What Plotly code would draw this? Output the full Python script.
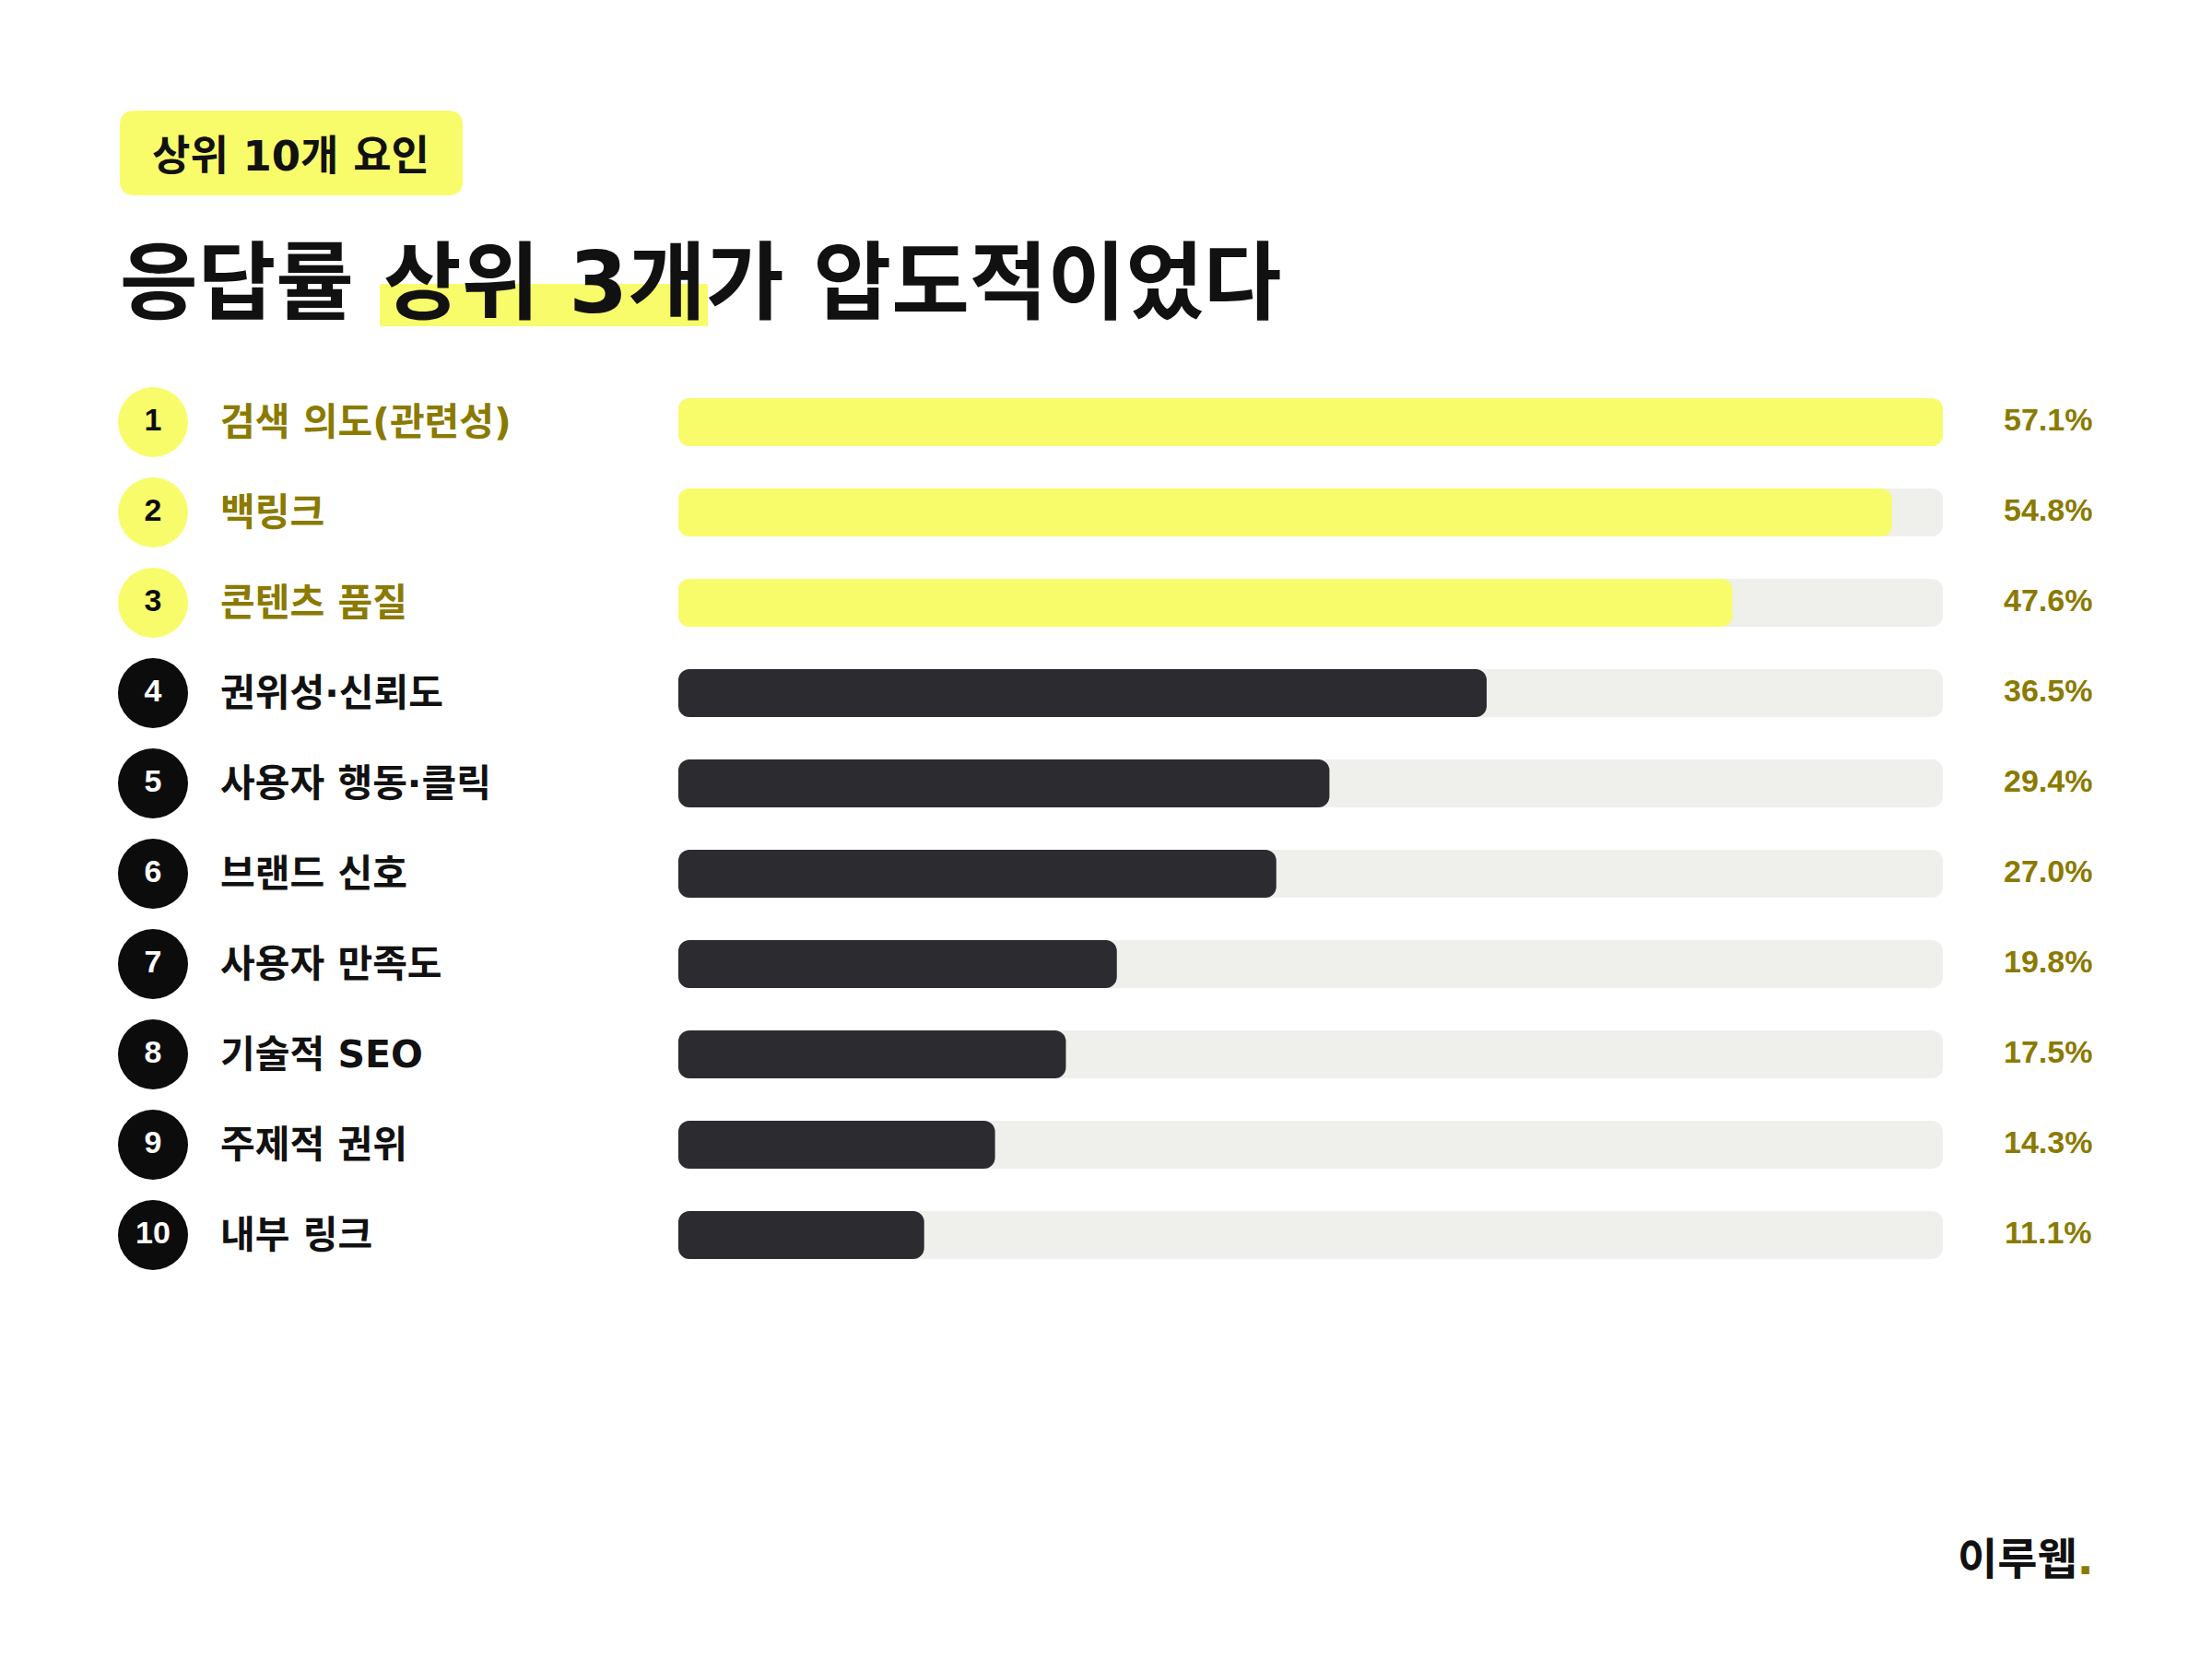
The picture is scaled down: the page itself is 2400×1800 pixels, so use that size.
import plotly.graph_objects as go

# ---- data ----
factors = ["검색 의도(관련성)", "백링크", "콘텐츠 품질", "권위성·신뢰도", "사용자 행동·클릭",
           "브랜드 신호", "사용자 만족도", "기술적 SEO", "주제적 권위", "내부 링크"]
values = [57.1, 54.8, 47.6, 36.5, 29.4, 27.0, 19.8, 17.5, 14.3, 11.1]
ranks = [str(i + 1) for i in range(len(factors))]
value_labels = [f"{v:.1f}%" for v in values]
badge_text = "상위 10개 요인"
title_text = "응답률 상위 3개가 압도적이었다"
brand_text = "이루웹"
top_n = 3

# ---- style ----
W, H = 2400, 1800
YELLOW = "#F8FC6B"
OLIVE = "#8A7A00"
TRACK = "#EFEFEB"
DARK = "#2B2B30"
BLACK = "#0C0C0C"
FONT = "DejaVu Sans, Noto Sans CJK KR"
LAT = "Liberation Sans, Arial"

n = len(factors)
rows = list(range(n))
vmax = max(values)
hi = [i < top_n for i in rows]

bar_colors = [YELLOW if h else DARK for h in hi]
circ_colors = [YELLOW if h else BLACK for h in hi]
num_colors = [BLACK if h else "#FFFFFF" for h in hi]
label_colors = [OLIVE if h else "#111111" for h in hi]

ROW_TOP, ROW_BOTTOM = 409, 1389   # pixel extent of row band
BAR_X0, BAR_X1 = 736, 2108        # pixel extent of bar track
BAR_W = 0.53
RAD = 12

fig = go.Figure()

# track
fig.add_trace(go.Bar(
    y=rows, x=[vmax] * n, base=[0] * n, orientation="h",
    width=BAR_W, marker=dict(color=TRACK, cornerradius=RAD, line=dict(width=0)),
    hoverinfo="skip", showlegend=False, xaxis="x", yaxis="y"))
# values
fig.add_trace(go.Bar(
    y=rows, x=values, base=[0] * n, orientation="h", width=BAR_W,
    marker=dict(color=bar_colors, cornerradius=RAD, line=dict(width=0)),
    hoverinfo="skip", showlegend=False, xaxis="x", yaxis="y"))

# rank circles (pixel-scaled x axis spanning full width)
fig.add_trace(go.Scatter(
    x=[166] * n, y=rows, mode="markers+text", text=ranks,
    textposition="middle center",
    textfont=dict(family=LAT, size=34, color=num_colors, weight="bold"),
    marker=dict(size=76, color=circ_colors, line=dict(width=0)),
    hoverinfo="skip", showlegend=False, xaxis="x2", yaxis="y", cliponaxis=False))

annotations = []
for i in rows:
    annotations.append(dict(
        x=237 / W, xref="paper", xanchor="left", y=i, yref="y", yanchor="middle",
        text=factors[i], showarrow=False,
        font=dict(family=FONT, size=41, color=label_colors[i], weight="bold")))
    annotations.append(dict(
        x=2272 / W, xref="paper", xanchor="right", y=i, yref="y", yanchor="middle",
        yshift=3, text=value_labels[i], showarrow=False,
        font=dict(family=LAT, size=34, color=OLIVE, weight="bold")))

# badge text
annotations.append(dict(
    x=316 / W, xref="paper", xanchor="center", y=1 - 169 / H, yref="paper", yanchor="middle",
    text=badge_text, showarrow=False,
    font=dict(family=FONT, size=45, color="#111111", weight="bold")))
# title
annotations.append(dict(
    x=128 / W, xref="paper", xanchor="left", y=1 - 307 / H, yref="paper", yanchor="middle",
    text=title_text, showarrow=False,
    font=dict(family=FONT, size=92, color="#111111", weight="bold")))
# brand
annotations.append(dict(
    x=2274 / W, xref="paper", xanchor="right", y=1 - 1691 / H, yref="paper", yanchor="middle",
    text=brand_text + f"<span style='color:{OLIVE}'>.</span>", showarrow=False,
    font=dict(family=FONT, size=47, color="#111111", weight="bold")))


def rrect_paper(x0, y0, x1, y1, r):
    """rounded rect from pixel coords (top-left origin) to paper path"""
    X = lambda v: v / W
    Y = lambda v: 1 - v / H
    return (f"M{X(x0+r)},{Y(y0)} L{X(x1-r)},{Y(y0)} Q{X(x1)},{Y(y0)} {X(x1)},{Y(y0+r)} "
            f"L{X(x1)},{Y(y1-r)} Q{X(x1)},{Y(y1)} {X(x1-r)},{Y(y1)} L{X(x0+r)},{Y(y1)} "
            f"Q{X(x0)},{Y(y1)} {X(x0)},{Y(y1-r)} L{X(x0)},{Y(y0+r)} Q{X(x0)},{Y(y0)} {X(x0+r)},{Y(y0)} Z")


shapes = [
    dict(type="path", xref="paper", yref="paper", layer="below",
         path=rrect_paper(130, 120, 502, 212, 16), fillcolor=YELLOW, line=dict(width=0)),
    dict(type="rect", xref="paper", yref="paper", layer="below",
         x0=412 / W, x1=768 / W, y0=1 - 354 / H, y1=1 - 308 / H,
         fillcolor=YELLOW, line=dict(width=0)),
]

fig.update_layout(
    width=W, height=H, margin=dict(l=0, r=0, t=0, b=0),
    paper_bgcolor="white", plot_bgcolor="rgba(0,0,0,0)",
    barmode="overlay", showlegend=False,
    xaxis=dict(domain=[BAR_X0 / W, BAR_X1 / W], range=[0, vmax], visible=False, fixedrange=True),
    xaxis2=dict(domain=[0, 1], range=[0, W], anchor="y", visible=False),
    yaxis=dict(domain=[1 - ROW_BOTTOM / H, 1 - ROW_TOP / H], range=[n - 0.5, -0.5],
               visible=False),
    annotations=annotations, shapes=shapes,
)

fig.write_html("out.html", config={"displayModeBar": False},
               post_script="document.body.style.margin='0';document.body.style.padding='0';")
